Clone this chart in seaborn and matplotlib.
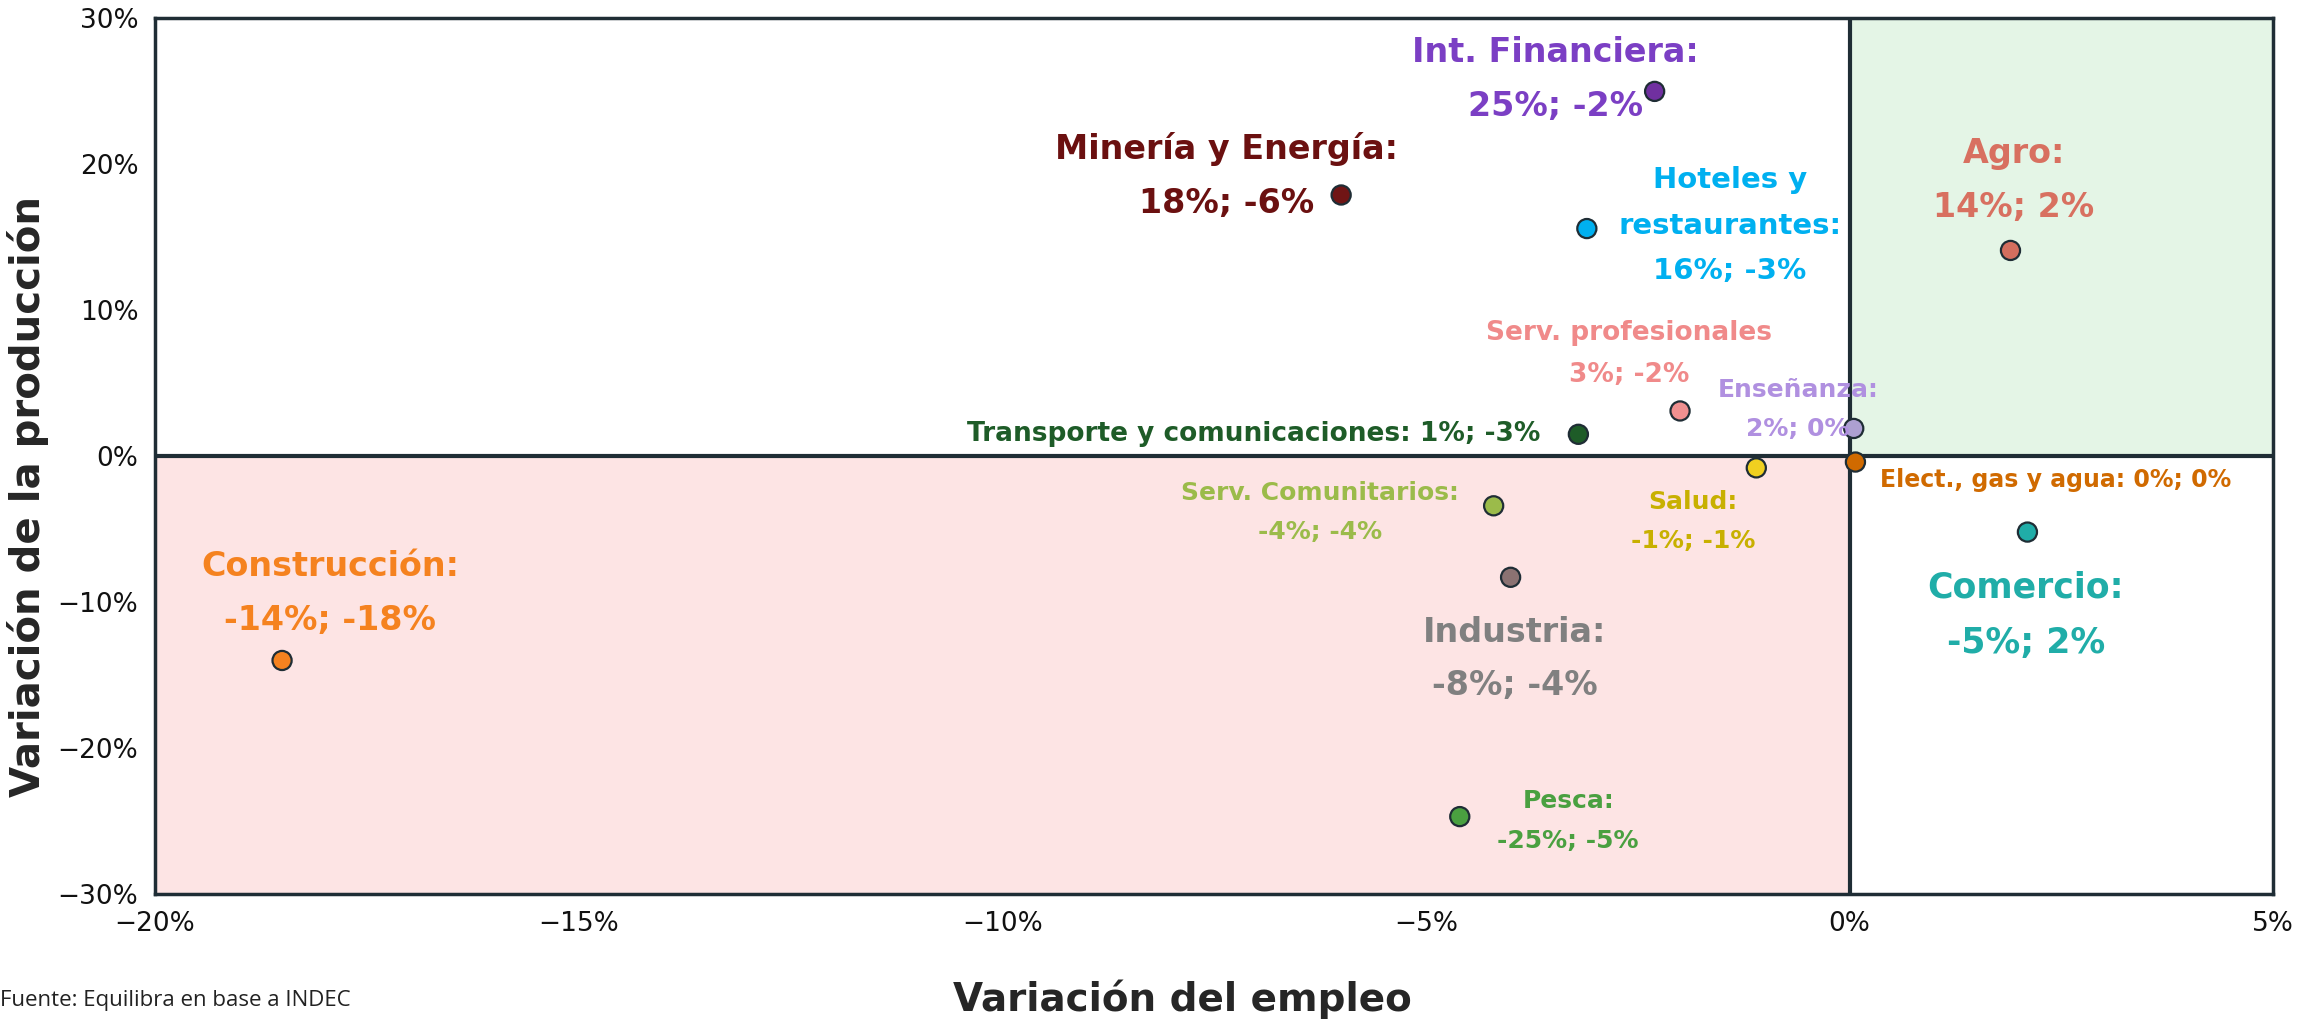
import matplotlib
matplotlib.use("Agg")
import matplotlib.pyplot as plt
import matplotlib.ticker as mticker
import seaborn as sns
import pandas as pd

# datos: variacion del empleo (x) y de la produccion (y), en %
sectores = ["Int. Financiera", "Minería y Energía", "Hoteles y restaurantes", "Agro",
            "Serv. profesionales", "Enseñanza", "Transporte y comunicaciones",
            "Salud", "Elect., gas y agua", "Serv. Comunitarios", "Comercio",
            "Industria", "Construcción", "Pesca"]
empleo = [-2.3, -6.0, -3.1, 1.9, -2.0, 0.05, -3.2, -1.1, 0.07, -4.2, 2.1, -4.0, -18.5, -4.6]
produccion = [25.0, 17.9, 15.6, 14.1, 3.1, 1.9, 1.5, -0.8, -0.4, -3.4, -5.2, -8.3, -14.0, -24.7]
etiquetas = ["Int. Financiera:\n25%; -2%", "Minería y Energía:\n18%; -6%",
             "Hoteles y\nrestaurantes:\n16%; -3%", "Agro:\n14%; 2%",
             "Serv. profesionales\n3%; -2%", "Enseñanza:\n2%; 0%",
             "Transporte y comunicaciones: 1%; -3%", "Salud:\n-1%; -1%",
             "Elect., gas y agua: 0%; 0%", "Serv. Comunitarios:\n-4%; -4%",
             "Comercio:\n-5%; 2%", "Industria:\n-8%; -4%",
             "Construcción:\n-14%; -18%", "Pesca:\n-25%; -5%"]

colores_punto = ["#7030A0", "#701515", "#00B0F0", "#D46E5E", "#F09090", "#ADA0D2",
                 "#1E5C28", "#F0D020", "#D06A00", "#9BBB4A", "#20ADA8", "#8B7272",
                 "#F5821F", "#4AA040"]
colores_texto = ["#7B3FC4", "#6B1010", "#00B0F0", "#D87060", "#F08A8A", "#B090E0",
                 "#1E5C28", "#C8B000", "#D06A00", "#9BBB4A", "#20ADA8", "#808080",
                 "#F5821F", "#4AA040"]

# posicion de cada etiqueta (x, y, alineacion, tamanio)
pos_etiqueta = [(-3.47, 25.8, "center", 24), (-7.35, 19.2, "center", 24),
                (-1.41, 15.8, "center", 21), (1.94, 18.9, "center", 24),
                (-2.6, 7.0, "center", 19), (-0.61, 3.2, "center", 18),
                (-3.65, 1.5, "right", 19), (-1.85, -4.5, "center", 18),
                (2.43, -1.6, "center", 17), (-6.25, -3.85, "center", 18),
                (2.08, -10.9, "center", 25), (-3.95, -13.9, "center", 24),
                (-17.93, -9.4, "center", 24), (-3.32, -25.0, "center", 18)]

df = pd.DataFrame({"sector": sectores, "empleo": empleo, "produccion": produccion})

sns.set_style("white")
plt.rcParams["font.family"] = ["DejaVu Sans"]
oscuro = "#1F2D35"

fig = plt.figure(figsize=(23.2, 10.24), dpi=100)
ax = fig.add_axes([0.0668, 0.127, 0.913, 0.855])

ax.set_xlim(-20, 5)
ax.set_ylim(-30, 30)
ax.fill_between([-20, 0], -30, 0, color="#FDE4E4", zorder=0, lw=0)
ax.fill_between([0, 5], 0, 30, color="#E4F5E6", zorder=0, lw=0)
ax.axhline(0, color=oscuro, lw=3, zorder=1)
ax.axvline(0, color=oscuro, lw=3, zorder=1)

sns.scatterplot(data=df, x="empleo", y="produccion", hue="sector",
                palette=dict(zip(sectores, colores_punto)), s=190,
                edgecolor=oscuro, linewidth=1.6, legend=False, ax=ax, zorder=3)

for et, col, (lx, ly, ha, fs) in zip(etiquetas, colores_texto, pos_etiqueta):
    ax.text(lx, ly, et, color=col, fontsize=fs, fontweight="bold", ha=ha,
            va="center", multialignment="center", linespacing=1.8, zorder=4)

ax.xaxis.set_major_locator(mticker.MultipleLocator(5))
ax.yaxis.set_major_locator(mticker.MultipleLocator(10))
fmt = mticker.FuncFormatter(lambda v, p: f"{v:.0f}%".replace("-", "−"))
ax.xaxis.set_major_formatter(fmt)
ax.yaxis.set_major_formatter(fmt)
ax.tick_params(labelsize=19, colors="#111111", length=0, pad=12)

for sp in ax.spines.values():
    sp.set_color(oscuro)
    sp.set_linewidth(2.5)

ax.set_xlabel("Variación del empleo", fontsize=28, fontweight="bold")
ax.set_ylabel("Variación de la producción", fontsize=29, fontweight="bold")
ax.xaxis.set_label_coords(0.485, -0.098)
ax.yaxis.set_label_coords(-0.05, 0.454)

fig.text(0.0, 0.018, "Fuente: Equilibra en base a INDEC", fontsize=16,
         color="#222222", family="Open Sans")

fig.savefig("out.png", dpi=100)
